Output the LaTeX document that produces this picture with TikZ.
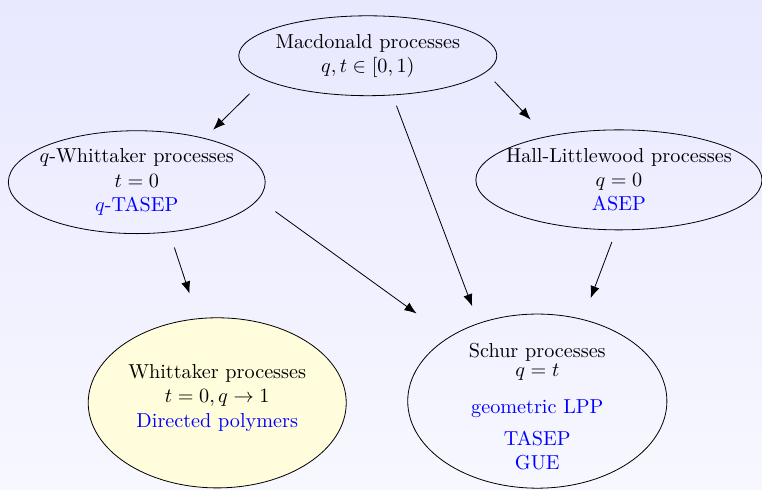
\documentclass[tikz,border=0pt]{standalone}
\usepackage{amssymb}
\usepackage{tikz}
\usetikzlibrary{shapes.geometric,arrows.meta}

\begin{document}
\begin{tikzpicture}[proc/.style={ellipse, draw, align=center, inner xsep=-8pt, inner ysep=-8pt},
  link/.style={-{Latex[length=6pt,width=4.6pt]}}]
\shade[top color=blue!9, bottom color=blue!3] (0,0) rectangle (13.26,8.51);
\useasboundingbox (0,0) rectangle (13.26,8.51);

\node[proc, minimum width=4.49cm, minimum height=1.39cm] (mac) at (6.40,7.54) {Macdonald processes\\ $q,t\in[0,1)$};
\node[proc, minimum width=4.47cm, minimum height=1.79cm] (qwhit) at (2.38,5.34) {$q$-Whittaker processes\\ $t=0$\\ \textcolor{blue}{$q$-TASEP}};
\node[proc, minimum width=4.98cm, minimum height=1.74cm] (hall) at (10.77,5.38) {Hall-Littlewood processes\\ $q=0$\\ \textcolor{blue}{ASEP}};
\node[proc, fill=yellow!14, minimum width=4.49cm, minimum height=2.96cm] (whit) at (3.78,1.50) {Whittaker processes\\ $t=0,q\to 1$\\ \textcolor{blue}{Directed polymers}\rule[-7pt]{0pt}{0pt}};
\node[proc, minimum width=4.51cm, minimum height=3.03cm] (schur) at (9.35,1.53) {\rule{0pt}{12.5pt}Schur processes\\[-2.6pt] $q=t$\\[6.3pt] \textcolor{blue}{geometric LPP}\\[3.8pt] \textcolor{blue}{TASEP}\\ \textcolor{blue}{GUE}};

\draw[link, shorten <=9.9pt, shorten >=5.9pt] (mac.193.5) -- (qwhit.33.5);
\draw[link, shorten <=6.4pt, shorten >=11.4pt] (mac.352.6) -- (hall.149.4);
\draw[link, shorten <=5.5pt, shorten >=8.9pt] (mac.302.9) -- (schur.127.6);
\draw[link, shorten <=7.9pt, shorten >=12.9pt] (qwhit.303.2) -- (whit.103.4);
\draw[link, shorten <=10.4pt, shorten >=19.8pt] (qwhit.352.2) -- (schur.144.6);
\draw[link, shorten <=6.2pt, shorten >=11.1pt] (hall.267.6) -- (schur.61.6);
\end{tikzpicture}
\end{document}
